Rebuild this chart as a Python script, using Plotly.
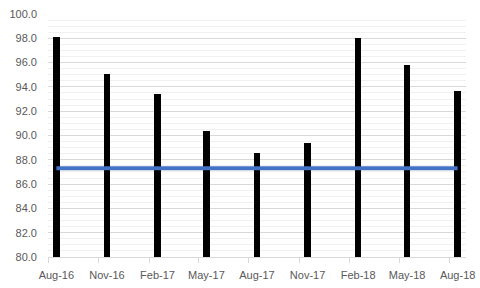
import plotly.graph_objects as go
import pandas as pd

# Data
dates = ["2016-08-01", "2016-11-01", "2017-02-01", "2017-05-01", "2017-08-01",
         "2017-11-01", "2018-02-01", "2018-05-01", "2018-08-01"]
values = [98.1, 95.1, 93.4, 90.4, 88.6, 89.4, 98.0, 95.8, 93.7]
target = 87.3
y_min, y_max, y_step = 80, 100, 2

half_slot = pd.Timedelta(days=15.22)
x_start = pd.Timestamp(dates[0]) - half_slot
x_end = pd.Timestamp(dates[-1]) + half_slot
bar_width_ms = 12 * 86400000

FONT = "Liberation Sans, Arial, sans-serif"
GREY = "#595959"

fig = go.Figure()
fig.add_trace(go.Bar(x=dates, y=values, marker=dict(color="#000000", line=dict(width=0)),
                     width=bar_width_ms, showlegend=False))
fig.add_trace(go.Scatter(x=[dates[0], dates[-1]], y=[target, target], mode="lines",
                         line=dict(color="#4472C4", width=4), showlegend=False))

fig.update_layout(
    width=480, height=288,
    margin=dict(l=48, r=14, t=14, b=31, autoexpand=False),
    paper_bgcolor="white", plot_bgcolor="white",
    font=dict(family=FONT, size=11, color=GREY),
    bargap=0,
)
fig.update_xaxes(
    type="date",
    automargin=False,
    range=[x_start, x_end],
    tickvals=dates,
    tickformat="%b-%y",
    ticks="",
    showgrid=False,
    showline=True, linecolor="#d9d9d9", linewidth=1,
    ticklabelstandoff=8,
    minor=dict(ticks="outside", ticklen=5, tickcolor="#d9d9d9",
               tick0=x_start, dtick="M3", showgrid=False),
)
fig.update_yaxes(
    automargin=False,
    range=[y_min, y_max],
    dtick=y_step,
    tick0=y_min,
    tickformat=".1f",
    showgrid=True, gridcolor="#d9d9d9", gridwidth=1,
    zeroline=False,
    showline=False,
    ticks="",
    ticklabelstandoff=10,
    minor=dict(dtick=0.5, showgrid=True, gridcolor="#f0f0f0", gridwidth=1),
)

fig.write_html("out.html")
